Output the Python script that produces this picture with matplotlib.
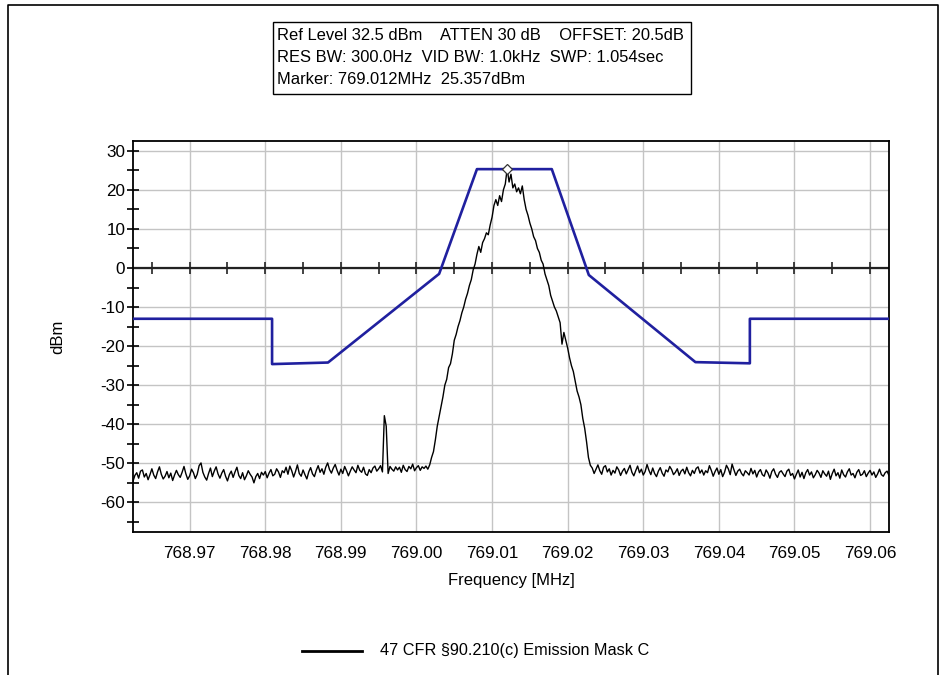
"""
Spectrum analyzer trace against the 47 CFR 90.210(c) emission mask C.
"""
import numpy as np
import matplotlib.pyplot as plt
from matplotlib.lines import Line2D
from matplotlib.patches import Rectangle
from matplotlib.ticker import MultipleLocator

plt.rcParams['font.family'] = ['Liberation Sans', 'DejaVu Sans']
plt.rcParams['axes.unicode_minus'] = False

# sweep settings
f_start = 768.9625
f_step = 0.00025

noise_left = [
    -54.6, -53.1, -52.4, -53.8, -52.0, -51.7, -53.5, -52.6, -54.2, -52.9, -51.4, -53.0, -53.9, -52.2, -50.9, -52.8, -54.0, -53.3, -52.1, -53.7,
    -52.5, -54.4, -53.0, -51.8, -52.9, -53.6, -52.3, -50.8, -52.7, -54.1, -53.2, -51.5, -52.4, -53.9, -52.8, -50.6, -49.9, -52.3, -53.5, -54.3,
    -52.6, -51.2, -53.4, -52.0, -50.9, -52.7, -53.8, -52.5, -51.6, -53.3, -54.5, -52.9, -52.0, -53.6, -52.2, -51.0, -53.1, -53.9, -52.4, -54.2,
    -53.2, -51.9, -52.8, -53.5, -55.0, -53.4, -52.6, -53.9, -52.3, -53.0, -52.1, -53.7, -52.5, -51.6, -53.2, -52.8, -51.4, -52.2, -53.6, -51.9,
    -52.4, -51.0, -52.8, -50.7, -51.9, -53.5, -52.1, -50.4, -52.6, -53.3, -51.7, -52.9, -54.0, -52.2, -51.1, -52.7, -53.4, -51.8, -50.6, -52.3,
    -51.4, -52.8, -51.0, -49.9, -51.6, -52.5, -51.2, -50.3, -51.8, -53.0, -51.5, -52.6, -50.8, -51.9, -53.2, -52.0, -50.9, -51.7, -52.4, -50.5,
    -51.8, -52.3, -51.0, -52.7, -53.1, -51.6, -52.4, -51.2, -50.7, -52.0, -51.4, -50.6, -52.2, -37.8, -40.5, -52.6, -50.8, -51.5, -52.0, -50.9,
    -51.7, -51.0, -52.3, -50.5, -51.6, -52.1, -50.8, -51.4, -50.2, -51.9, -51.1, -50.6, -51.8, -50.9, -51.3, -50.7, -51.5, -50.4,
]
carrier = [
    -48.5, -47.0, -44.0, -40.5, -38.0, -35.5, -33.0, -30.0, -28.5, -25.5,
    -24.5, -22.0, -18.5, -17.0, -15.0, -13.5, -11.5, -10.0, -8.0, -6.5,
    -4.5, -3.0, -0.5, 1.0, 3.5, 5.5, 4.0, 6.5, 7.5, 9.0,
    8.5, 11.0, 13.0, 16.0, 17.5, 16.0, 18.5, 17.0, 20.0, 21.5,
    25.4, 22.0, 24.0, 20.5, 21.5, 19.5, 20.5, 19.0, 21.0, 17.5,
    15.0, 13.5, 11.5, 10.0, 8.0, 7.0, 5.0, 4.0, 2.0, 1.0,
    -1.5, -3.0, -4.5, -7.0, -8.5, -10.0, -11.0, -12.5, -14.0, -19.5,
    -16.5, -18.5, -20.5, -23.0, -25.0, -26.5, -29.0, -31.5, -33.0, -35.0,
    -38.5, -41.0, -44.5, -48.5, -50.5,
]
noise_right = [
    -51.2, -52.6, -51.5, -50.4, -51.9, -52.8, -51.0, -50.6, -52.2, -51.4, -53.0, -51.8, -52.5, -50.9, -51.7, -53.1, -52.0, -51.3, -52.7, -51.6,
    -50.5, -52.3, -53.2, -51.9, -50.7, -52.4, -51.5, -53.0, -52.1, -50.3, -51.8, -52.9, -51.2, -52.6, -53.4, -52.0, -51.1, -52.5, -53.3, -51.7,
    -52.2, -50.8, -51.6, -52.9, -52.3, -51.4, -53.1, -52.0, -51.5, -52.7, -51.0, -52.4, -53.2, -51.8, -52.6, -51.3, -50.9, -52.5, -51.7, -53.0,
    -51.9, -52.4, -50.6, -51.8, -53.3, -52.1, -51.2, -52.8, -51.6, -53.4, -52.3, -50.5, -51.4, -52.9, -50.2, -51.7, -53.1, -52.0, -51.5, -52.6,
    -53.2, -51.9, -52.4, -53.0, -51.3, -52.7, -51.8, -53.5, -52.2, -51.6, -52.9, -53.3, -51.7, -52.5, -53.8, -52.1, -51.4, -52.8, -53.6, -52.3,
    -51.9, -52.7, -53.4, -52.0, -51.5, -53.1, -52.6, -54.0, -52.8, -51.7, -53.5, -52.3, -53.9, -52.4, -51.6, -53.0, -52.2, -53.7, -52.9, -51.8,
    -52.5, -53.6, -51.9, -52.7, -53.3, -52.0, -54.1, -52.6, -51.5, -53.2, -52.4, -53.8, -51.7, -52.9, -53.5, -52.2, -51.4, -53.0, -52.6, -53.7,
    -52.3, -51.6, -53.1, -52.8, -51.9, -53.4, -52.5, -51.8, -53.0, -52.2, -53.6, -52.7, -51.5, -52.9, -53.3, -52.4, -52.0, -53.1,
]

# emission mask C corners
mask_freq = [768.9625, 768.9809, 768.9809, 768.9883, 769.0030, 769.0080,
             769.0179, 769.0228, 769.0369, 769.0441, 769.0441, 769.0625]
mask_dbm = [-13.0, -13.0, -24.6, -24.2, -1.5, 25.3,
            25.3, -1.8, -24.1, -24.4, -13.0, -13.0]

marker_freq = 769.012
marker_dbm = 25.357

header_lines = [
    'Ref Level 32.5 dBm    ATTEN 30 dB    OFFSET: 20.5dB',
    'RES BW: 300.0Hz  VID BW: 1.0kHz  SWP: 1.054sec',
    'Marker: 769.012MHz  25.357dBm',
]
legend_label = '47 CFR §90.210(c) Emission Mask C'

trace = noise_left + carrier + noise_right
freq = f_start + f_step * np.arange(len(trace))

x_lim = (768.9625, 769.0625)
y_lim = (-67.5, 32.5)

fig = plt.figure(figsize=(9.43, 6.75), dpi=100)
ax = fig.add_axes([0.1410, 0.2123, 0.8017, 0.5788])

ax.plot(freq, trace, color='black', linewidth=1.0, zorder=3)
ax.plot(mask_freq, mask_dbm, color='#20209f', linewidth=1.9, zorder=4)
ax.plot([marker_freq], [marker_dbm], marker='D', markersize=5.5,
        markerfacecolor='white', markeredgecolor='#333333', markeredgewidth=0.9, zorder=5)

ax.set_xlim(*x_lim)
ax.set_ylim(*y_lim)

ax.xaxis.set_major_locator(MultipleLocator(0.01))
ax.yaxis.set_major_locator(MultipleLocator(10))
ax.yaxis.set_minor_locator(MultipleLocator(5))
ax.xaxis.set_major_formatter(plt.FuncFormatter(lambda v, p: f'{v:.2f}'))
ax.grid(True, which='major', color='#c4c4c4', linewidth=1.0, zorder=0)
ax.set_axisbelow(True)

ax.tick_params(axis='x', which='both', length=0, pad=10, labelsize=12.3)
ax.tick_params(axis='y', which='both', direction='inout', length=9, width=1.2, pad=1, labelsize=12.3)

for side in ['left', 'right', 'top', 'bottom']:
    ax.spines[side].set_linewidth(1.3)
    ax.spines[side].set_color('black')

# zero line with its own frequency ticks every 5 kHz
ax.axhline(0, color='#222222', linewidth=1.6, zorder=2)
zero_ticks = np.arange(768.965, x_lim[1], 0.005)
ax.plot(zero_ticks, np.zeros_like(zero_ticks), linestyle='none', marker='|',
        markersize=9, markeredgewidth=1.2, color='#222222', zorder=2)

ax.set_xlabel('Frequency [MHz]', fontsize=12)
ax.set_ylabel('dBm', fontsize=12)
ax.xaxis.set_label_coords(0.5, -0.105)
ax.yaxis.set_label_coords(-0.089, 0.5)

# header box with analyzer settings
W, H = 943, 675
fig.patches.append(Rectangle((273 / W, 1 - 94 / H), (691 - 273) / W, (94 - 22) / H,
                             transform=fig.transFigure, fill=False,
                             edgecolor='black', linewidth=1.0))
for i, line in enumerate(header_lines):
    fig.text(277 / W, 1 - (35 + 22.5 * i) / H, line, fontsize=11.9,
             ha='left', va='center')

# legend at the bottom
fig.lines.append(Line2D([302 / W, 362 / W], [1 - 651 / H, 1 - 651 / H],
                        transform=fig.transFigure, color='black', linewidth=2))
fig.text(380 / W, 1 - 651 / H, legend_label, fontsize=11.7, ha='left', va='center')

# outer frame
fig.lines.append(Line2D([8 / W, 8 / W, 938 / W, 938 / W],
                        [0, 1 - 5 / H, 1 - 5 / H, 0],
                        transform=fig.transFigure, color='black', linewidth=1.2))

fig.savefig('out.png', dpi=100)
